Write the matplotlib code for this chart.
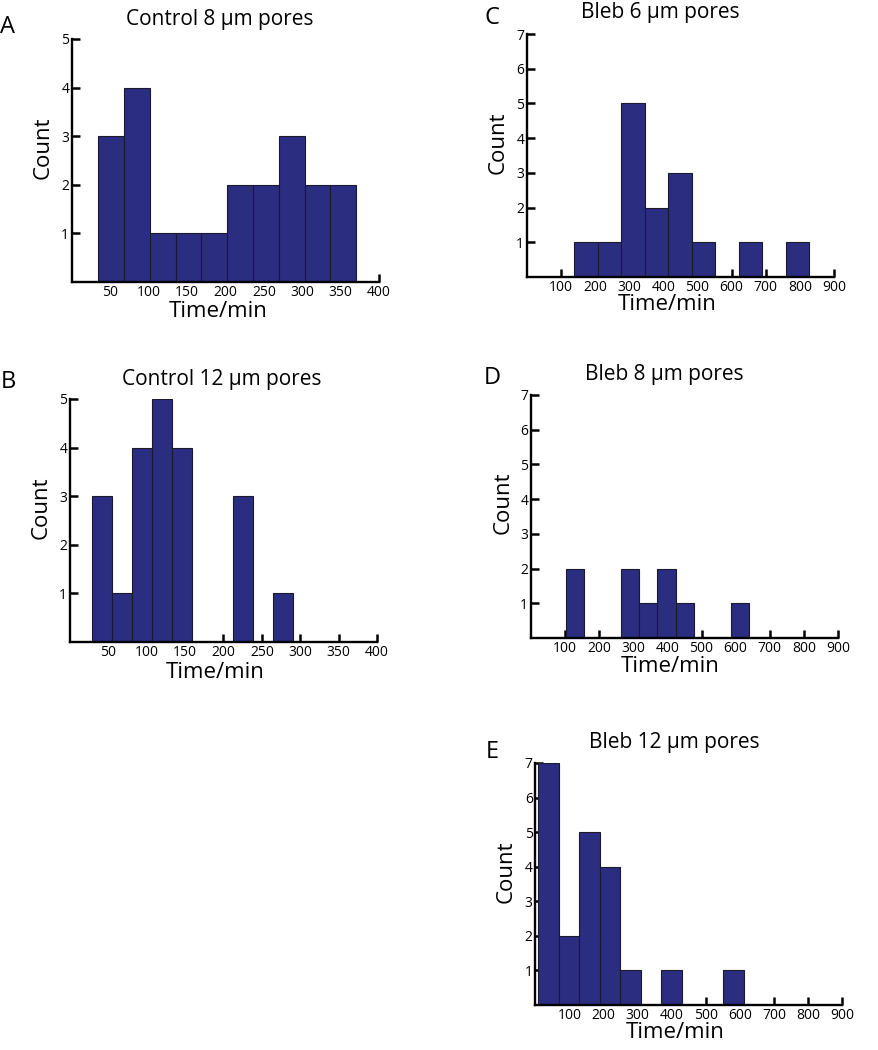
import matplotlib
matplotlib.use('Agg')
import matplotlib.pyplot as plt
import numpy as np

plt.rcParams['font.family'] = ['Open Sans', 'DejaVu Sans']

W, H = 879, 1050
BAR = '#2b2e80'

# ---- data ----
titles = ['Control 8 µm pores', 'Control 12 µm pores', 'Bleb 6 µm pores',
          'Bleb 8 µm pores', 'Bleb 12 µm pores']
letters = ['A', 'B', 'C', 'D', 'E']

a_counts = [3, 4, 1, 1, 1, 2, 2, 3, 2, 2]
a_first_edge, a_bin_width = 34.3, 33.6

b_counts = [3, 1, 4, 5, 4, 0, 0, 3, 0, 1]
b_first_edge, b_bin_width = 29.1, 26.1

c_counts = [1, 1, 5, 2, 3, 1, 0, 1, 0, 1]
c_first_edge, c_bin_width = 138.0, 69.0

d_counts = [2, 0, 0, 2, 1, 2, 1, 0, 0, 1]
d_first_edge, d_bin_width = 101.7, 53.7

e_counts = [7, 2, 5, 4, 1, 0, 1, 0, 0, 1]
e_first_edge, e_bin_width = 7.9, 60.3

ctrl_xticks = [50, 100, 150, 200, 250, 300, 350, 400]
bleb_xticks = [100, 200, 300, 400, 500, 600, 700, 800, 900]
ctrl_yticks = [1, 2, 3, 4, 5]
bleb_yticks = [1, 2, 3, 4, 5, 6, 7]

panels = [
    (a_counts, a_first_edge, a_bin_width, ctrl_xticks, ctrl_yticks, 400, 5),
    (b_counts, b_first_edge, b_bin_width, ctrl_xticks, ctrl_yticks, 400, 5),
    (c_counts, c_first_edge, c_bin_width, bleb_xticks, bleb_yticks, 900, 7),
    (d_counts, d_first_edge, d_bin_width, bleb_xticks, bleb_yticks, 900, 7),
    (e_counts, e_first_edge, e_bin_width, bleb_xticks, bleb_yticks, 900, 7),
]

# ---- layout (pixel boxes: left, top, right, bottom) ----
boxes = [(72, 39, 379, 282), (70, 399, 377, 642), (527, 34, 834, 277),
         (531, 395, 838, 638), (535.5, 763, 842, 1005)]
title_pos = [(220, 25), (222, 385), (660, 18), (664, 380), (674, 748)]   # baselines
letter_pos = [(8, 33), (8, 388), (492, 24), (492, 384), (492, 758)]      # baselines
ylabel_pos = [(43, 148), (41, 508), (498, 143), (503, 503), (506, 872)]
xlabel_pos = [(218, 317), (215, 678), (667, 310), (670, 672), (675, 1038)]  # baselines

fig = plt.figure(figsize=(W / 100, H / 100), dpi=100)

def fx(x):
    return x / W

def fy(y):
    return 1 - y / H

for i, (counts, e0, bw, xt, yt, xmax, ymax) in enumerate(panels):
    l, t, r, b = boxes[i]
    ax = fig.add_axes([fx(l), fy(b), (r - l) / W, (b - t) / H])
    counts = np.asarray(counts, dtype=float)
    edges = e0 + bw * np.arange(len(counts))
    mask = counts > 0
    ax.bar(edges[mask], counts[mask], width=bw, align='edge', color=BAR,
           edgecolor='#1a1a2e', linewidth=0.8, zorder=2)
    ax.set_xlim(0, xmax)
    ax.set_ylim(0, ymax)
    ax.set_xticks(xt)
    ax.set_xticklabels([str(v) for v in xt])
    ax.set_yticks(yt)
    ax.set_yticklabels([str(v) for v in yt])
    for s in ['top', 'right']:
        ax.spines[s].set_visible(False)
    for s in ['left', 'bottom']:
        ax.spines[s].set_linewidth(1.7)
        ax.spines[s].set_zorder(3)
    ax.tick_params(direction='in', length=6, width=1.8, labelsize=10,
                   pad=2, colors='black')
    ax.patch.set_alpha(0)

    fig.text(fx(title_pos[i][0]), fy(title_pos[i][1]), titles[i],
             ha='center', va='baseline', fontsize=15)
    fig.text(fx(letter_pos[i][0]), fy(letter_pos[i][1]), letters[i],
             ha='center', va='baseline', fontsize=17)
    fig.text(fx(ylabel_pos[i][0]), fy(ylabel_pos[i][1]), 'Count',
             ha='center', va='center', rotation=90, fontsize=16)
    fig.text(fx(xlabel_pos[i][0]), fy(xlabel_pos[i][1]), 'Time/min',
             ha='center', va='baseline', fontsize=16)

fig.savefig('out.png', dpi=100)
